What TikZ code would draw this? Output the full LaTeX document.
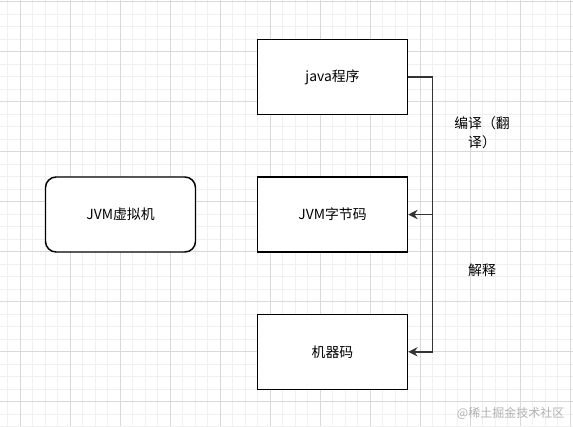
\documentclass[tikz,border=0pt]{standalone}
\usepackage{fontspec}
\setmainfont{Noto Sans CJK SC}
\usepackage{tikz}
\usetikzlibrary{arrows.meta}

\definecolor{minorgrid}{HTML}{F0F0F0}
\definecolor{majorgrid}{HTML}{D9D9D9}
\definecolor{linegray}{HTML}{333333}

\tikzset{
  box/.style={draw=black, line width=1.1pt, fill=white, minimum width=112.5pt,
    minimum height=56.25pt, inner sep=0pt, font=\fontsize{10.4}{12}\selectfont},
  vmbox/.style={box, rounded corners=8pt},
  conn/.style={draw=linegray, line width=1.1pt, -{Stealth[length=7pt,width=7pt]}},
  lbl/.style={font=\fontsize{10.4}{14.2}\selectfont, align=center}
}

\begin{document}
\begin{tikzpicture}[x=0.75pt, y=-0.75pt]

% background and grid
\fill[white] (0,0) rectangle (573,426);
\useasboundingbox (0,0) rectangle (573,426);
\foreach \i in {0,...,46} {
  \draw[minorgrid, line width=0.6pt] (7.5+12.5*\i,0) -- (7.5+12.5*\i,426);
}
\foreach \j in {0,...,34} {
  \draw[minorgrid, line width=0.6pt] (0,1.7+12.5*\j) -- (573,1.7+12.5*\j);
}
\foreach \i in {0,...,11} {
  \draw[majorgrid, line width=0.6pt] (20+50*\i,0) -- (20+50*\i,426);
}
\foreach \j in {0,...,8} {
  \draw[majorgrid, line width=0.6pt] (0,1.7+50*\j) -- (573,1.7+50*\j);
}

% boxes
\node[vmbox] (jvm) at (120.5,214.5) {JVM虚拟机};
\node[box] (java) at (332.5,77) {java程序};
\node[box] (bytecode) at (332.5,214.5) {JVM字节码};
\node[box] (machine) at (332.5,351.8) {机器码};

% arrows
\coordinate (bend) at (432.3,77);
\draw[conn] (java.east) -- (bend) |- (bytecode.east);
\draw[conn] (java.east) -- (bend) |- (machine.east);

% labels
\node[lbl] (compile) at (482,132.5) {编译（翻\\译）};
\node[lbl] (interpret) at (482,270) {解释};

% watermark
\node[text=black!30, font=\fontsize{9}{10}\selectfont, anchor=east] (mark) at (569,413) {@稀土掘金技术社区};

\end{tikzpicture}
\end{document}
